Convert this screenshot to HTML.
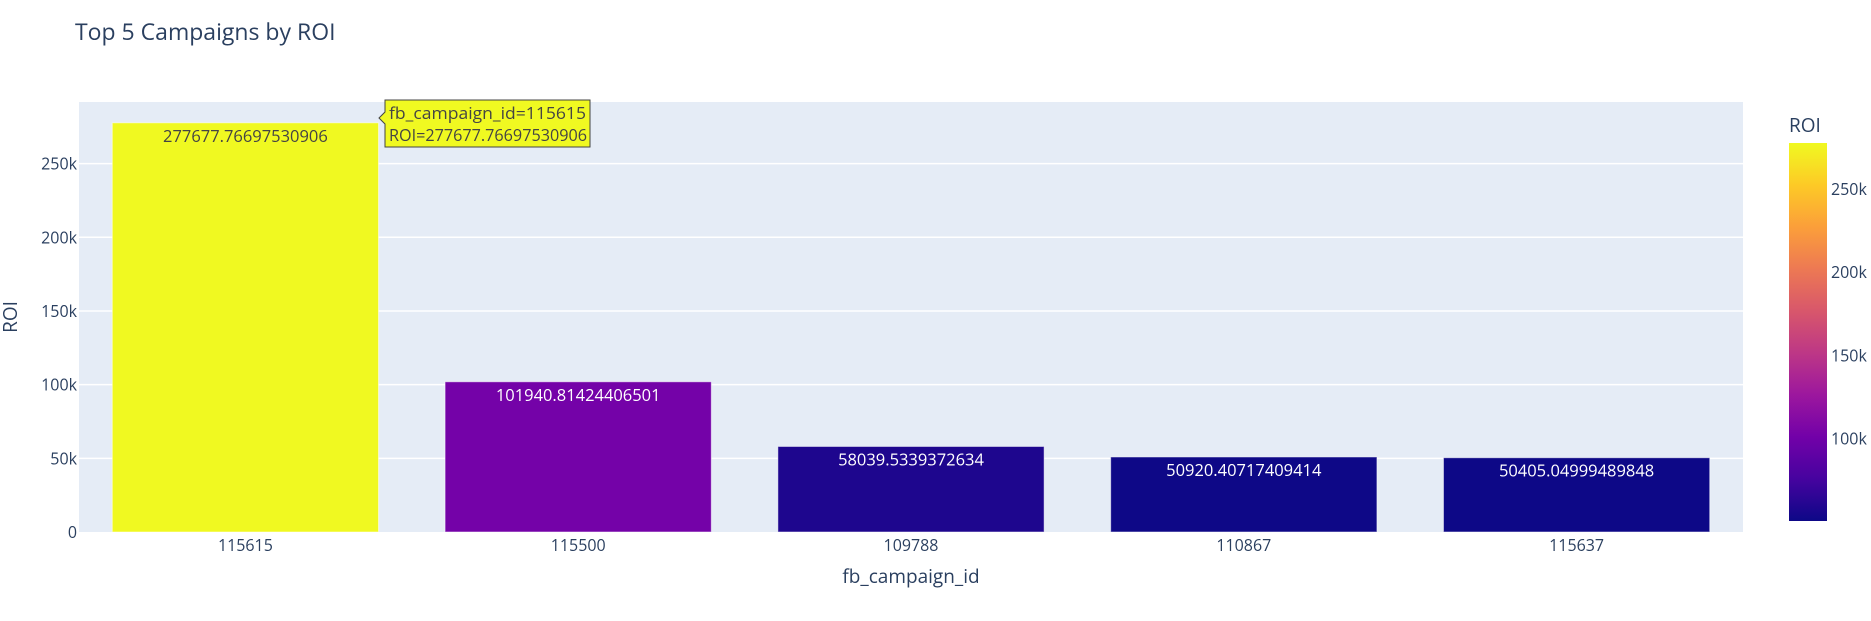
<!DOCTYPE html>
<html><head><meta charset="utf-8">
<style>
html,body{margin:0;padding:0;background:#fff;}
svg{display:block;font-family:"Open Sans","Liberation Sans",sans-serif;}
</style></head>
<body>
<svg id="chart" width="1871" height="621" viewBox="0 0 1871 621" xmlns="http://www.w3.org/2000/svg">
  <rect x="0" y="0" width="1871" height="621" fill="#fff"/>
  <text x="75" y="40" font-size="23" fill="#2a3f5f">Top 5 Campaigns by ROI</text>
  <rect x="79" y="102" width="1664" height="430" fill="#e5ecf6"/>
  <g id="grid"></g>
  <g id="yticks"></g>
  <g id="bars"></g>
  <g id="xticks"></g>
  <text x="911" y="583" font-size="19" fill="#2a3f5f" text-anchor="middle">fb_campaign_id</text>
  <text transform="translate(17,317) rotate(-90)" font-size="19" fill="#2a3f5f" text-anchor="middle">ROI</text>
  <defs>
    <linearGradient id="plasma" x1="0" y1="1" x2="0" y2="0">
      <stop offset="0" stop-color="#0d0887"/><stop offset="0.111" stop-color="#46039f"/>
      <stop offset="0.222" stop-color="#7201a8"/><stop offset="0.333" stop-color="#9c179e"/>
      <stop offset="0.444" stop-color="#bd3786"/><stop offset="0.556" stop-color="#d8576b"/>
      <stop offset="0.667" stop-color="#ed7953"/><stop offset="0.778" stop-color="#fb9f3a"/>
      <stop offset="0.889" stop-color="#fdca26"/><stop offset="1" stop-color="#f0f921"/>
    </linearGradient>
  </defs>
  <text x="1789" y="132" font-size="19" fill="#2a3f5f">ROI</text>
  <rect x="1789" y="143" width="38" height="378" fill="url(#plasma)"/>
  <g id="cbticks"></g>
  <g id="tooltip">
    <path d="M385,100 H590 V147 H385 V124 L379,118 L385,112 Z" fill="#f0f921" stroke="#444" stroke-width="1"/>
    <text x="389" y="119" font-size="16.5" fill="#444" textLength="197" lengthAdjust="spacingAndGlyphs">fb_campaign_id=115615</text>
    <text x="389" y="141" font-size="16.5" fill="#444" textLength="198" lengthAdjust="spacingAndGlyphs">ROI=277677.76697530906</text>
  </g>
</svg>
<script>
const categories = ["115615","115500","109788","110867","115637"];
const roiValues = [277677.76697530906, 101940.81424406501, 58039.5339372634, 50920.40717409414, 50405.04999489848];
const valueLabels = ["277677.76697530906","101940.81424406501","58039.5339372634","50920.40717409414","50405.04999489848"];
const yTicks = [0, 50000, 100000, 150000, 200000, 250000];
const yTickLabels = ["0","50k","100k","150k","200k","250k"];
const cbTicks = [100000, 150000, 200000, 250000];
const cbTickLabels = ["100k","150k","200k","250k"];

const NS = "http://www.w3.org/2000/svg";
const plotL = 79, plotR = 1743, plotT = 102, plotB = 532;
const yMax = 291800;
const y = v => plotB - v / yMax * (plotB - plotT);
const band = (plotR - plotL) / categories.length;
const xC = i => plotL + band * (i + 0.5);
const cMin = Math.min(...roiValues), cMax = Math.max(...roiValues);
const cbTop = 143, cbBot = 521;
const cbY = v => cbBot - (v - cMin) / (cMax - cMin) * (cbBot - cbTop);
const plasma = ["#0d0887","#46039f","#7201a8","#9c179e","#bd3786","#d8576b","#ed7953","#fb9f3a","#fdca26","#f0f921"];
function hex(h){return [1,3,5].map(i=>parseInt(h.substr(i,2),16));}
function colorFor(v){
  const t = (v - cMin) / (cMax - cMin) * (plasma.length - 1);
  const i = Math.min(Math.floor(t), plasma.length - 2), f = t - i;
  const a = hex(plasma[i]), b = hex(plasma[i+1]);
  return "rgb(" + a.map((c,k)=>Math.round(c + (b[k]-c)*f)).join(",") + ")";
}
function mk(tag, attrs, parent){const e=document.createElementNS(NS,tag);for(const k in attrs)e.setAttribute(k,attrs[k]);parent.appendChild(e);return e;}

const grid = document.getElementById("grid"), yt = document.getElementById("yticks");
yTicks.forEach((v,i)=>{
  if (v > 0) {
    const l = mk("line",{x1:plotL,x2:plotR,y1:y(v),y2:y(v),stroke:"#fff","stroke-width":1.5},grid);
    
    
  }
  const t = mk("text",{x:77,y:y(v)+6,"font-size":16,fill:"#2a3f5f","text-anchor":"end"},yt);
  
  
  t.textContent = yTickLabels[i];
});

const bars = document.getElementById("bars"), xt = document.getElementById("xticks");
roiValues.forEach((v,i)=>{
  const w = band * 0.8;
  const r = mk("rect",{x:xC(i)-w/2,y:y(v),width:w,height:plotB-y(v),fill:colorFor(v),stroke:"rgba(255,255,255,0.5)","stroke-width":1},bars);
  
  
  const lbl = mk("text",{x:xC(i),y:y(v)+19,"font-size":16.5,"text-anchor":"middle",fill:(v-cMin)/(cMax-cMin)>0.6?"#444":"#fff"},bars);
  
  
  lbl.textContent = valueLabels[i];
  const t = mk("text",{x:xC(i),y:551,"font-size":16,fill:"#2a3f5f","text-anchor":"middle"},xt);
  
  
  t.textContent = categories[i];
});

const cb = document.getElementById("cbticks");
cbTicks.forEach((v,i)=>{
  const t = mk("text",{x:1831,y:cbY(v)+6,"font-size":16,fill:"#2a3f5f"},cb);
  
  
  t.textContent = cbTickLabels[i];
});
</script>
</body></html>
